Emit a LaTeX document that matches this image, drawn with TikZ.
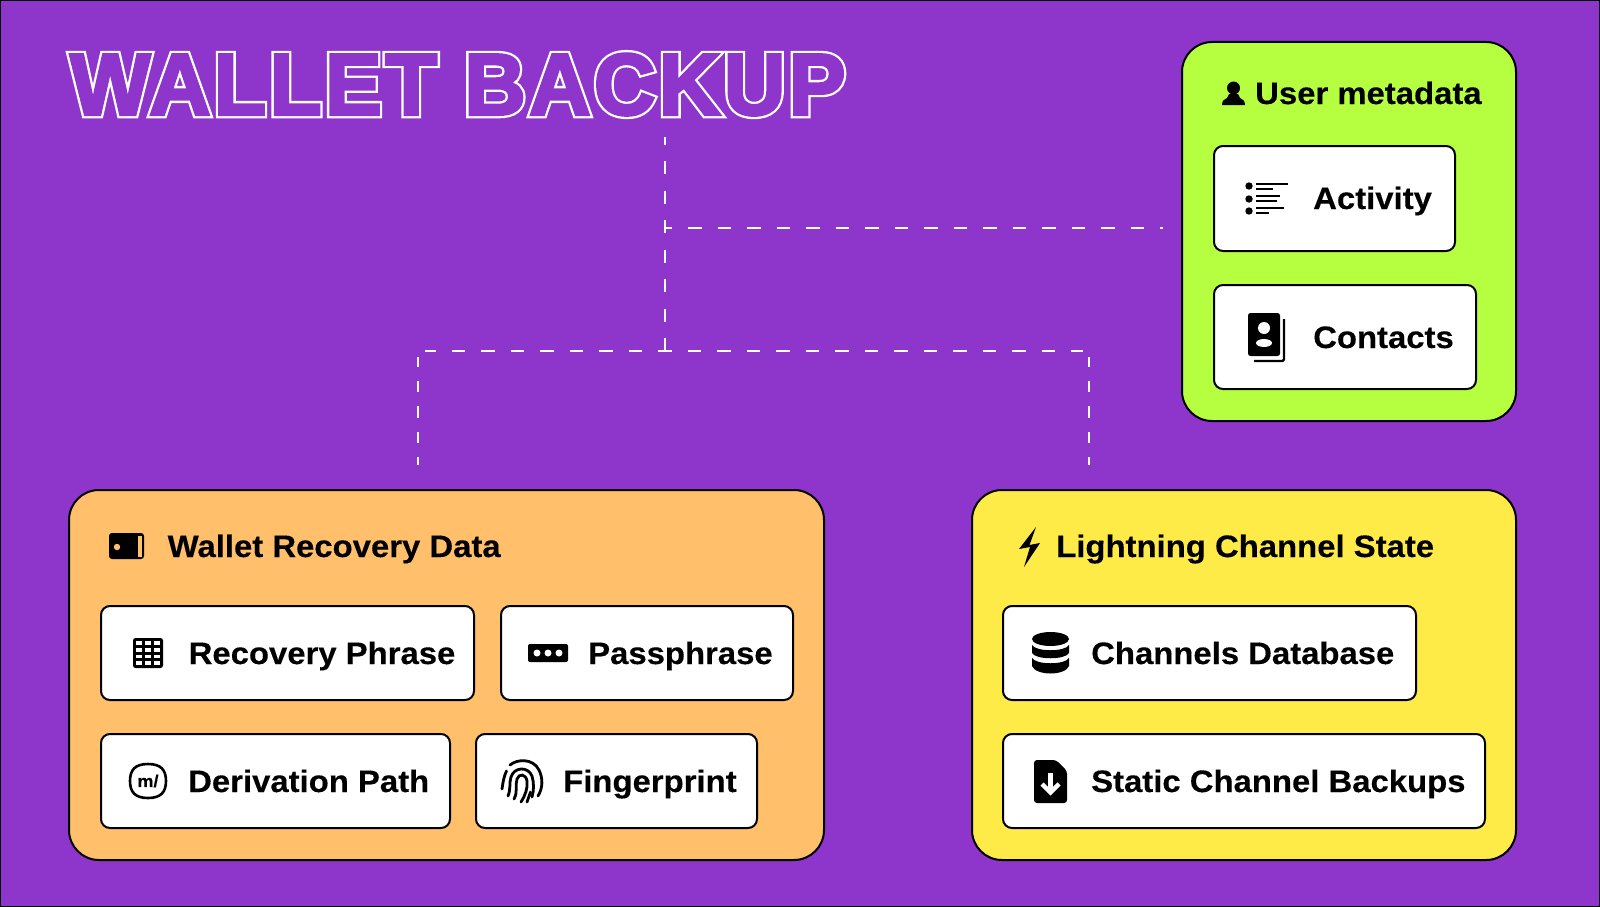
\documentclass[tikz,border=0pt]{standalone}
\usepackage{fontspec}
\setmainfont{Liberation Sans Bold}[FakeStretch=1.06, FakeBold=0.25]
\newfontfamily\titlefont{Liberation Sans Bold}[LetterSpace=4.2, FakeStretch=0.975]
\definecolor{walletpurple}{HTML}{8E35CC}
\definecolor{limegreen}{HTML}{B6FF40}
\definecolor{softorange}{HTML}{FFBF6B}
\definecolor{softyellow}{HTML}{FFEB47}
\tikzset{
	panel/.style={draw=black, line width=2pt, rounded corners=30pt, inner sep=0pt},
	itembox/.style={draw=black, line width=2pt, fill=white, rounded corners=9pt, inner sep=0pt},
	label/.style={anchor=base west, inner sep=0pt, font=\fontsize{31}{31}\selectfont},
	link/.style={draw=white, line width=2.3pt, dash pattern=on 13.4pt off 16.1pt},
	droplink/.style={draw=white, line width=2.3pt, dash pattern=on 11.5pt off 13.9pt, dash phase=1.5pt}
}
\begin{document}
\begin{tikzpicture}[x=1pt, y=-1pt]
\useasboundingbox (0,0) rectangle (1600,907);
\fill[walletpurple, draw=black, line width=2pt] (0,0) rectangle (1600,907);

\node[anchor=base west, inner sep=0pt, font=\fontsize{87}{87}\titlefont] (title) at (70,114.5)
	{\rlap{\color{white}\special{pdf:code 1 1 1 RG 7.6 w 3 M 2 Tr}WALLET BACKUP}%
	{\color{walletpurple}\special{pdf:code 0.557 0.208 0.8 RG 3 w 3 M 2 Tr}WALLET BACKUP\special{pdf:code 0 Tr}}};

\coordinate (trunktop) at (665,137);
\coordinate (hub) at (665,351);
\coordinate (branch) at (665,228);
\coordinate (metaend) at (1163,228);
\coordinate (walletturn) at (425,351);
\coordinate (channelturn) at (1083,351);
\coordinate (walletstart) at (418,357);
\coordinate (channelstart) at (1089,357);
\coordinate (walletend) at (418,465);
\coordinate (channelend) at (1089,465);
\path[link, dash phase=5.5pt] (trunktop) edge (hub);
\path[link, dash phase=6.4pt] (branch) edge (metaend);
\path[link, dash phase=6.7pt] (hub) edge (walletturn);
\path[link, dash phase=6.7pt] (hub) edge (channelturn);
\path[droplink] (walletstart) edge (walletend);
\path[droplink] (channelstart) edge (channelend);

\node[panel, fill=limegreen, minimum width=334pt, minimum height=379pt] (meta) at (1349,231.5) {};
\node[panel, fill=softorange, minimum width=755pt, minimum height=370pt] (wallet) at (446.5,675) {};
\node[panel, fill=softyellow, minimum width=544pt, minimum height=370pt] (channel) at (1244,675) {};

\node[itembox, minimum width=241pt, minimum height=105pt] (activitybox) at (1334.5,198.5) {};
\node[itembox, minimum width=262pt, minimum height=104pt] (contactsbox) at (1345,337) {};
\node[itembox, minimum width=373pt, minimum height=94pt] (phrasebox) at (287.5,653) {};
\node[itembox, minimum width=292pt, minimum height=94pt] (passbox) at (647,653) {};
\node[itembox, minimum width=349pt, minimum height=94pt] (pathbox) at (275.5,781) {};
\node[itembox, minimum width=281pt, minimum height=94pt] (fingerbox) at (616.5,781) {};
\node[itembox, minimum width=413pt, minimum height=94pt] (databasebox) at (1209.5,653) {};
\node[itembox, minimum width=482pt, minimum height=94pt] (staticbox) at (1244,781) {};

\node[label] (metatitle) at (1255,104) {User metadata};
\node[label] (activity) at (1313,209) {Activity};
\node[label] (contacts) at (1313,348) {Contacts};
\node[label] (wallettitle) at (167.5,557) {Wallet Recovery Data};
\node[label] (phrase) at (188.5,664) {Recovery Phrase};
\node[label] (passphrase) at (588,664) {Passphrase};
\node[label] (path) at (188,792) {Derivation Path};
\node[label] (finger) at (563,792) {Fingerprint};
\node[label] (channeltitle) at (1056,557) {Lightning Channel State};
\node[label] (database) at (1091,664) {Channels Database};
\node[label] (static) at (1091,792) {Static Channel Backups};

% user
\fill (1233.5,88) circle (6.5pt);
\fill (1229,94) -- (1238,94) -- (1240,98) .. controls (1243,99) and (1245,101) .. (1245,105)
	-- (1222,105) .. controls (1222,101) and (1224,99) .. (1227,98) -- cycle;
% activity
\foreach \y in {186,199,211} \fill (1249,\y) circle (3.7pt);
\foreach \y/\xend in {184/1288,189/1273,196/1280,201/1277,208/1284,213/1269}
	\draw[line width=2.2pt] (1256,\y) -- (\xend,\y);
% contacts
\draw[line width=2.2pt, rounded corners=1.5pt] (1284,319) -- (1284,361) -- (1254,361);
\fill[rounded corners=2.5pt] (1248,313) rectangle (1280,356);
\fill[white] (1264,328) circle (6pt);
\fill[white] (1264,343) ellipse (8pt and 4pt);
% wallet
\fill[rounded corners=3pt] (109,533) rectangle (144,559);
\fill[softorange] (138,536) rectangle (141.8,556.5);
\fill[softorange] (117,547) circle (3.2pt);
% word grid
\fill[rounded corners=2.5pt] (133,638) rectangle (163,668);
\foreach \x in {139,148,157} \foreach \y in {643,649.7,656.4,663}
	\fill[white] (\x-3.3,\y-1.8) rectangle (\x+3.3,\y+1.8);
% passphrase
\fill[rounded corners=2pt] (528,644) rectangle (568,662);
\foreach \x in {537,548,559} \fill[white] (\x,653) circle (3.5pt);
% path
\draw[line width=2.6pt] (148,764) .. controls (161,764) and (166,770) .. (166,781)
	.. controls (166,792) and (161,798) .. (148,798)
	.. controls (135,798) and (130,792) .. (130,781)
	.. controls (130,770) and (135,764) .. (148,764) -- cycle;
\node[inner sep=0pt, font=\fontsize{17}{17}\selectfont] (pathmark) at (148,781) {m/};
% fingerprint
\begin{scope}[line width=2.8pt, line cap=round]
\draw (510,765) .. controls (517,759) and (533,758) .. (539,770) .. controls (543,778) and (543,788) .. (538,796);
\draw (506.5,771) .. controls (504,776) and (503,782) .. (502,789);
\draw (508,796) .. controls (511,789) and (509,783) .. (511,777) .. controls (514,767) and (528,766) .. (532,776) .. controls (534,783) and (534,790) .. (532,797);
\draw (514,799) .. controls (518,792) and (515,785) .. (517,779) .. controls (519,773) and (526,774) .. (527,781) .. controls (528,788) and (525,796) .. (521,802);
\draw (530.5,792) -- (527,802);
\end{scope}
% bolt
\fill (1036,527) -- (1019,549) -- (1030,547) -- (1024,567) -- (1040,543) -- (1029.5,545) -- cycle;
% database
\fill (1050.5,639) ellipse (18.5pt and 7pt);
\fill (1032,645) .. controls (1036,652) and (1065,652) .. (1069,645) -- (1069,653)
	.. controls (1065,660) and (1036,660) .. (1032,653) -- cycle;
\fill (1032,658) .. controls (1036,665) and (1065,665) .. (1069,658) -- (1069,666)
	.. controls (1065,676) and (1036,676) .. (1032,666) -- cycle;
% backup file
\fill[rounded corners=3pt] (1034,760) -- (1056,760) -- (1067,771) -- (1067,803) -- (1034,803) -- cycle;
\draw[white, line width=4.4pt] (1050.5,773) -- (1050.5,792);
\draw[white, line width=4.4pt] (1042,784) -- (1050.5,792.5) -- (1059,784);
\end{tikzpicture}
\end{document}
